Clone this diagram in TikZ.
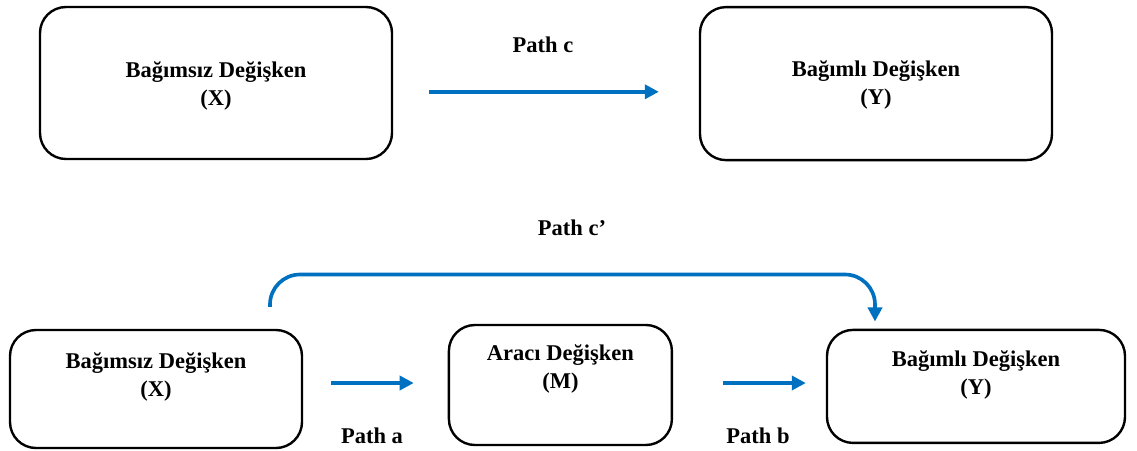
\documentclass[tikz,border=0pt]{standalone}
\usepackage{fontspec}
\setmainfont{Liberation Serif}
\usetikzlibrary{calc,arrows.meta}
\definecolor{pathblue}{RGB}{0,112,192}

\begin{document}
\begin{tikzpicture}[
  box/.style={draw,rectangle,rounded corners=6.5mm,line width=1.7pt},
  lbl/.style={align=center,font=\bfseries\fontsize{16}{20}\selectfont},
  flow/.style={draw=pathblue,line width=2.6pt,-{Triangle[length=10pt,width=10pt]}}
]
\useasboundingbox (0,0) rectangle (28.425,-11.25);

\draw node [box, minimum width=88mm, minimum height=38mm](xtop) at (5.4,-2.075){};
\draw node [box, minimum width=88mm, minimum height=38.25mm](ytop) at (21.9,-2.09){};
\draw node [lbl](xtoplbl) at ($ (xtop) - (0,0.075)$){Bağımsız Değişken\\(X)};
\draw node [lbl](ytoplbl) at ($ (ytop) - (0,0.035)$){Bağımlı Değişken\\(Y)};

\draw[flow,shorten <=9mm,shorten >=10mm] ([yshift=-2.2mm]xtop.east) -- ([yshift=-2.2mm]xtop.east -| ytop.west);
\draw node [lbl](pathc) at (13.575,-1.125){Path c};

\draw node [box, minimum width=73mm, minimum height=29.5mm](xbot) at (3.9,-9.725){};
\draw node [box, minimum width=55.75mm, minimum height=30mm](mbox) at (14.01,-9.625){};
\draw node [box, minimum width=74.5mm, minimum height=28.25mm](ybot) at (24.4,-9.66){};
\draw node [lbl](xbotlbl) at ($ (xbot) + (0,0.3)$){Bağımsız Değişken\\(X)};
\draw node [lbl](mlbl) at ($ (mbox) + (0,0.4)$){Aracı Değişken\\(M)};
\draw node [lbl](ybotlbl) at ($ (ybot) + (0,0.29)$){Bağımlı Değişken\\(Y)};

\draw[flow,shorten <=7mm,shorten >=8.5mm] ([yshift=1.5mm]xbot.east) -- ([yshift=1.5mm]xbot.east -| mbox.west);
\draw node [lbl](patha) at (9.3,-10.9){Path a};
\draw[flow,shorten <=12.5mm,shorten >=5mm] ([yshift=0.5mm]mbox.east) -- ([yshift=0.5mm]mbox.east -| ybot.west);
\draw node [lbl](pathb) at (18.95,-10.9){Path b};

\coordinate (cstart) at ($ (xbot.north) + (2.85,0.55)$);
\coordinate (cend) at ($ (ybot.north) + (-2.525,0.18)$);
\draw[flow,rounded corners=7.5mm] (cstart) |- ($ (cend) + (0,1.175)$) -- (cend);
\draw node [lbl](pathcp) at (14.3,-5.7){Path c’};

\end{tikzpicture}
\end{document}
